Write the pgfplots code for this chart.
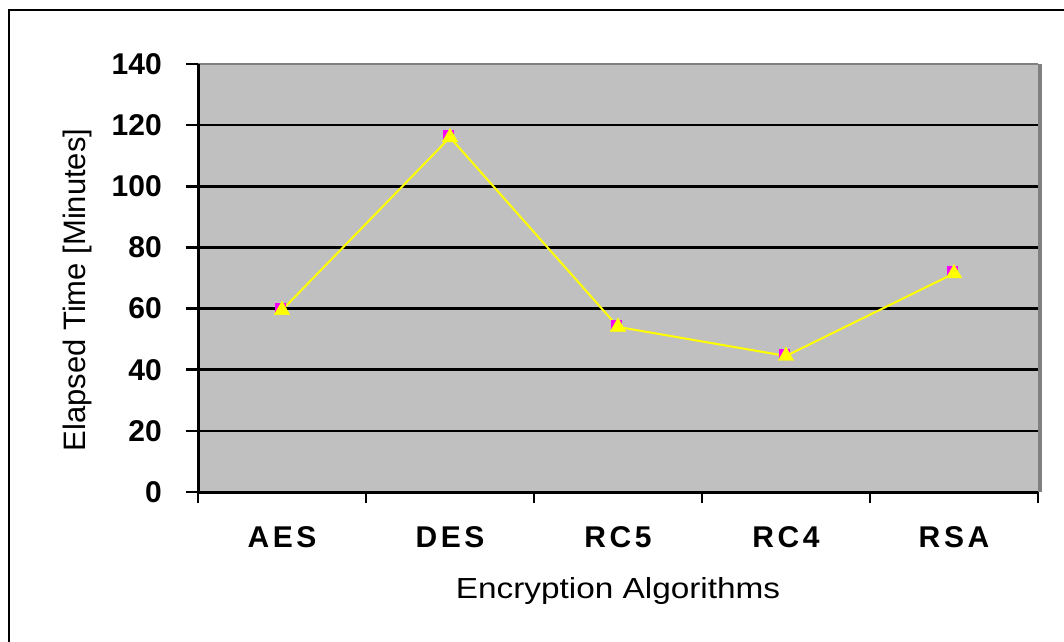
\documentclass[border=0pt]{standalone}
\usepackage{pgfplots}
\pgfplotsset{compat=1.18}
\usepackage{graphicx}
\usepackage{fontspec}
\setmainfont{Liberation Sans}
\definecolor{plotgray}{HTML}{C0C0C0}
\definecolor{edgegray}{HTML}{808080}
\definecolor{mag}{HTML}{FF00FF}
\definecolor{yel}{HTML}{FFFF00}
\begin{document}
\begin{tikzpicture}[x=1pt,y=1pt]
\path[use as bounding box] (0,0) rectangle (1064,641);
\draw[line width=2.5pt] (9,-20) -- (9,631) -- (1090,631);
\begin{axis}[
  at={(198pt,149pt)}, anchor=south west,
  scale only axis, width=840pt, height=428pt,
  xmin=-0.5, xmax=4.5, ymin=0, ymax=140,
  clip=false,
  axis background/.style={fill=plotgray},
  axis line style={draw=none},
  xtick={0,1,2,3,4},
  xticklabels={AES,DES,RC5,RC4,RSA},
  minor xtick={-0.5,0.5,1.5,2.5,3.5,4.5},
  ytick={0,20,...,140},
  xtick pos=bottom, ytick pos=left,
  tick align=outside,
  major tick length=12pt,
  minor tick length=11pt,
  major x tick style={draw=none},
  every tick/.style={black, line width=2.5pt},
  ymajorgrids,
  major grid style={black, line width=2.5pt},
  /pgf/number format/assume math mode=true,
  ticklabel style={font=\bfseries\fontsize{30}{30}\selectfont},
  yticklabel style={inner sep=0pt, xshift=-24pt},
  xticklabel style={anchor=base, inner sep=0pt, yshift=-43pt, font=\bfseries\fontsize{30}{30}\selectfont\addfontfeature{LetterSpace=12}},
]
\addplot[yel, line width=2pt] coordinates {(0,59.5) (1,116) (2,54) (3,44.5) (4,71.5)};
\addplot[only marks, mark=square*, mark size=5pt, mark options={draw=mag, fill=mag, xshift=-2pt, yshift=2pt}] coordinates {(0,59.5) (1,116) (2,54) (3,44.5) (4,71.5)};
\addplot[only marks, mark=triangle*, mark size=9pt, mark options={draw=yel, fill=yel}] coordinates {(0,59.5) (1,116) (2,54) (3,44.5) (4,71.5)};
\draw[edgegray, line width=2.5pt] (rel axis cs:0,1) -- (rel axis cs:1,1);
\draw[edgegray, line width=4pt] ([xshift=2pt]rel axis cs:1,1) -- ([xshift=2pt]rel axis cs:1,0);
\draw[black, line width=3pt] (rel axis cs:0,1) -- (rel axis cs:0,0) -- (rel axis cs:1,0);
\end{axis}
\node[anchor=base] at (618,43) {\fontsize{29}{29}\selectfont\scalebox{1.15}[1]{Encryption Algorithms}};
\node[rotate=90] at (77,351) {\fontsize{31}{31}\selectfont Elapsed Time [Minutes]};
\end{tikzpicture}
\end{document}
